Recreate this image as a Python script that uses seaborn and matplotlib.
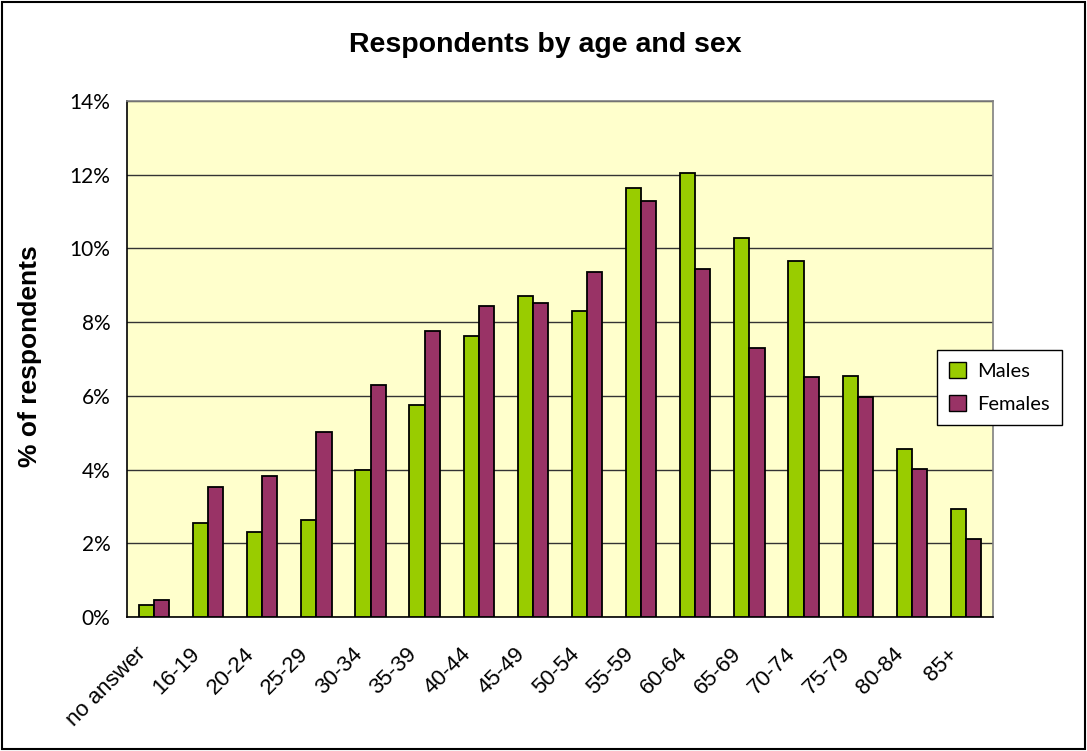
import numpy as np
import pandas as pd
import matplotlib
matplotlib.use("Agg")
import matplotlib.pyplot as plt
import matplotlib.transforms as mtransforms
from matplotlib.patches import Rectangle, Patch
from matplotlib.ticker import FuncFormatter
import seaborn as sns

sns.set_style("white")
plt.rcParams['font.family'] = ['Liberation Sans', 'DejaVu Sans']
plt.rcParams['text.color'] = 'black'
plt.rcParams['xtick.color'] = 'black'
plt.rcParams['ytick.color'] = 'black'

# data (% of respondents)
age_groups = ["no answer", "16-19", "20-24", "25-29", "30-34", "35-39", "40-44",
              "45-49", "50-54", "55-59", "60-64", "65-69", "70-74", "75-79",
              "80-84", "85+"]
males = [0.33, 2.56, 2.31, 2.64, 3.98, 5.74, 7.63, 8.72, 8.29, 11.64, 12.05,
         10.28, 9.67, 6.54, 4.55, 2.93]
females = [0.47, 3.54, 3.83, 5.02, 6.30, 7.76, 8.43, 8.52, 9.35, 11.29, 9.44,
           7.31, 6.50, 5.98, 4.02, 2.13]
yticks = [0, 2, 4, 6, 8, 10, 12, 14]

df = pd.DataFrame({
    "age": age_groups * 2,
    "sex": ["Males"] * len(males) + ["Females"] * len(females),
    "pct": males + females,
})

fig = plt.figure(figsize=(10.87, 7.51), dpi=100)
ax = fig.add_axes([0.1168, 0.1784, 0.7967, 0.6871])
ax.set_facecolor("#FFFFCC")

sns.barplot(data=df, x="age", y="pct", hue="sex", order=age_groups,
            palette={"Males": "#99CC00", "Females": "#993366"},
            saturation=1, width=0.56, edgecolor="black", linewidth=1.3,
            ax=ax, errorbar=None, legend=False, zorder=3)

ax.set_ylim(0, 14)
ax.set_xlim(-0.5, len(age_groups) - 0.5)
ax.set_yticks(yticks)
ax.yaxis.set_major_formatter(FuncFormatter(lambda v, p: f"{int(v)}%"))
ax.grid(axis="y", color="#333333", linewidth=1, zorder=0)
ax.set_axisbelow(True)
ax.set_xlabel("")
ax.set_ylabel("")

for s in ["left", "bottom"]:
    ax.spines[s].set_color("black")
    ax.spines[s].set_linewidth(1.2)
for s in ["top", "right"]:
    ax.spines[s].set_color("#808080")
    ax.spines[s].set_linewidth(1.2)

ax.tick_params(axis="y", direction="out", length=6, width=1, color="black",
               pad=6, labelsize=15)
for lab in ax.get_yticklabels():
    lab.set_family(["Lato", "DejaVu Sans"])

# tick marks at category boundaries, labels at centers
ax.set_xticks(np.arange(-0.5, len(age_groups), 1), minor=True)
ax.tick_params(axis="x", which="minor", direction="out", length=7, width=1,
               color="black")
ax.tick_params(axis="x", which="major", length=0, pad=0, labelsize=16)
offset = mtransforms.ScaledTranslation(-0.11, -0.34, fig.dpi_scale_trans)
for lab in ax.get_xticklabels():
    lab.set_rotation(45)
    lab.set_rotation_mode("anchor")
    lab.set_ha("right")
    lab.set_va("center")
    lab.set_transform(lab.get_transform() + offset)

# legend
handles = [Patch(facecolor="#99CC00", edgecolor="black", label="Males"),
           Patch(facecolor="#993366", edgecolor="black", label="Females")]
leg = fig.legend(handles=handles, loc="upper left",
                 bbox_to_anchor=(937 / 1087, 1 - 350 / 751),
                 bbox_transform=fig.transFigure, borderaxespad=0,
                 frameon=True, fancybox=False, edgecolor="black",
                 framealpha=1, prop={"family": "Lato", "size": 14.5},
                 handlelength=0.85, handleheight=0.85, labelspacing=0.75,
                 handletextpad=0.55, borderpad=0.6)
leg.get_frame().set_linewidth(1)

fig.text(0.502, 1 - 45 / 751, "Respondents by age and sex", ha="center",
         va="center", fontsize=20.5, fontweight="bold")
fig.text(30 / 1087, 1 - 356 / 751, "% of respondents", rotation=90,
         ha="center", va="center", fontsize=19, fontweight="bold")

fig.patches.append(Rectangle((0.002, 0.003), 0.996, 0.994,
                             transform=fig.transFigure, fill=False,
                             edgecolor="black", linewidth=1.5))

fig.savefig("out.png", dpi=100)
